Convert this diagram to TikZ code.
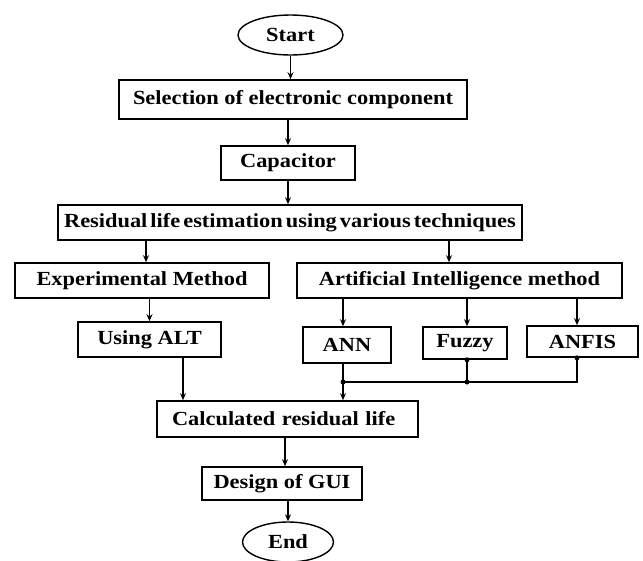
\documentclass[tikz,border=0pt]{standalone}
\usepackage{fontspec}
\setmainfont{Liberation Serif}[FakeStretch=1.12]
\usetikzlibrary{shapes.geometric,arrows.meta}
\begin{document}
\begin{tikzpicture}[x=1pt,y=-1pt,
  every node/.style={font=\fontsize{20}{23}\selectfont\bfseries, inner sep=0pt},
  box/.style={draw, line width=1.6pt, rectangle},
  oval/.style={draw, line width=1.4pt, ellipse},
  arr/.style={line width=1.2pt, -{Stealth[length=7pt,width=6pt]}},
  ln/.style={line width=1.2pt},
  dot/.style={fill, circle, minimum size=5pt, inner sep=0pt}]
\useasboundingbox (0,0) rectangle (643,560);
\node[oval, minimum width=105pt, minimum height=40pt] (start) at (290.5,35) {Start};
\node[box, minimum width=348pt, minimum height=39pt] (sel) at (293,99.5) {Selection of electronic component};
\node[box, minimum width=134pt, minimum height=34pt] (cap) at (288,163) {Capacitor};
\node[box, minimum width=464pt, minimum height=35pt] (res) at (290,222.5) {\spaceskip=3pt Residual life estimation using various techniques};
\node[box, minimum width=254pt, minimum height=35pt] (exp) at (142,280.5) {Experimental Method};
\node[box, minimum width=325pt, minimum height=35pt] (ai) at (459.5,280.5) {Artificial Intelligence method};
\node[box, minimum width=143pt, minimum height=35pt] (alt) at (149.5,339.5) {Using ALT};
\node[box, minimum width=88pt, minimum height=36pt] (ann) at (347,345) {ANN};
\node[box, minimum width=84pt, minimum height=32pt] (fuz) at (465,343) {Fuzzy};
\node[box, minimum width=111pt, minimum height=31pt] (anfis) at (582.5,341.5) {ANFIS};
\node[box, minimum height=36pt, text width=231pt, inner xsep=15pt, align=left] (calc) at (287.5,419) {Calculated residual life};
\node[box, minimum width=160pt, minimum height=33pt] (gui) at (282,483.5) {Design of GUI};
\node[oval, minimum width=91pt, minimum height=40pt] (end) at (288,542) {End};
% helper coordinates
\coordinate (xexp) at (146,0);
\coordinate (xai) at (449,0);
\coordinate (xann) at (343,0);
\coordinate (xfuz) at (467,0);
\coordinate (xanfis) at (577,0);
\coordinate (xalt) at (183,0);
\coordinate (xcalc) at (285,0);
\coordinate (xend) at (288,0);
\coordinate (j1) at (343,382);
\coordinate (j2) at (467,382);
\coordinate (j3) at (577,382);
% connectors
\draw[arr] (start.south) -- (start.south |- sel.north);
\draw[arr] (cap.north |- sel.south) -- (cap.north);
\draw[arr] (cap.south) -- (cap.south |- res.north);
\draw[arr] (xexp |- res.south) -- (xexp |- exp.north);
\draw[arr] (xai |- res.south) -- (xai |- ai.north);
\draw[arr] (alt.north |- exp.south) -- (alt.north);
\draw[arr] (xann |- ai.south) -- (xann |- ann.north);
\draw[arr] (xfuz |- ai.south) -- (xfuz |- fuz.north);
\draw[arr] (xanfis |- ai.south) -- (xanfis |- anfis.north);
\draw[ln] (xann |- ann.south) -- (j1);
\draw[ln] (xfuz |- fuz.south) -- (j2);
\draw[ln] (xanfis |- anfis.south) -- (j3) -- (j1);
\draw[arr] (j1) -- (j1 |- calc.north);
\draw[arr] (xalt |- alt.south) -- (xalt |- calc.north);
\draw[arr] (xcalc |- calc.south) -- (xcalc |- gui.north);
\draw[arr] (xend |- gui.south) -- (xend |- end.north);
\node[dot] at (j1) {};
\node[dot] at (j2) {};
\node[dot] at (xfuz |- fuz.south) {};
\node[dot] at (xanfis |- anfis.south) {};
\end{tikzpicture}
\end{document}
